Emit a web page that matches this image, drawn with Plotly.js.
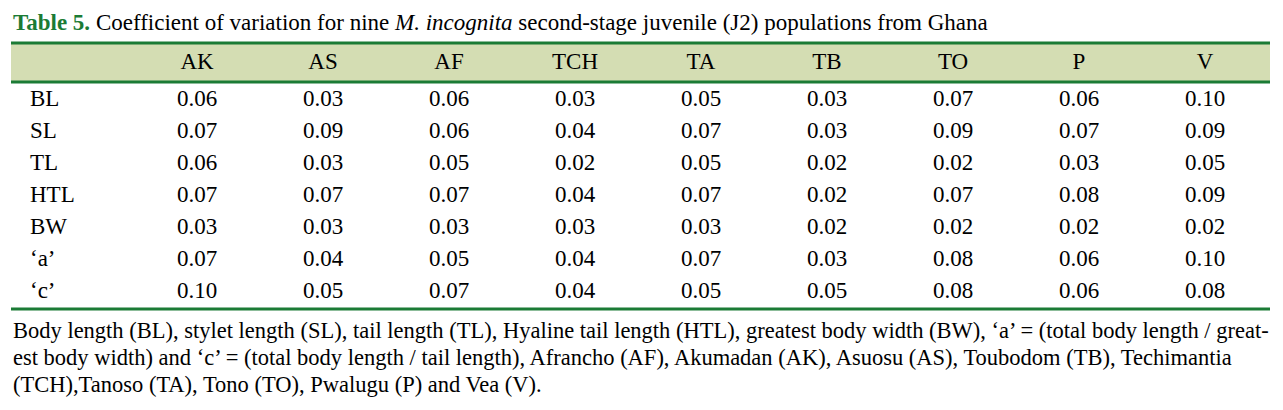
<!DOCTYPE html>
<html>
<head>
<meta charset="utf-8">
<script src="https://cdn.plot.ly/plotly-3.0.1.min.js"></script>
<style>
  body { margin: 0; background: #fff; }
  #tabla { width: 1283px; height: 410px; }
</style>
</head>
<body>
<div id="tabla"></div>
<script>
var poblaciones = ['AK', 'AS', 'AF', 'TCH', 'TA', 'TB', 'TO', 'P', 'V'];
var medidas = ['BL', 'SL', 'TL', 'HTL', 'BW', '\u2018a\u2019', '\u2018c\u2019'];

var BL  = [0.06, 0.03, 0.06, 0.03, 0.05, 0.03, 0.07, 0.06, 0.10];
var SL  = [0.07, 0.09, 0.06, 0.04, 0.07, 0.03, 0.09, 0.07, 0.09];
var TL  = [0.06, 0.03, 0.05, 0.02, 0.05, 0.02, 0.02, 0.03, 0.05];
var HTL = [0.07, 0.07, 0.07, 0.04, 0.07, 0.02, 0.07, 0.08, 0.09];
var BW  = [0.03, 0.03, 0.03, 0.03, 0.03, 0.02, 0.02, 0.02, 0.02];
var a   = [0.07, 0.04, 0.05, 0.04, 0.07, 0.03, 0.08, 0.06, 0.10];
var c   = [0.10, 0.05, 0.07, 0.04, 0.05, 0.05, 0.08, 0.06, 0.08];
var filas = [BL, SL, TL, HTL, BW, a, c];

var fuente = 'Liberation Serif';
var verde = '#1b7b35';
var tinta = '#000';

// x: column index 1..9 (126 px apart), y: row index 0..6 (32 px apart)
var x0 = 1 - 197 / 126, x1 = x0 + 1283 / 126;
var yTop = -100 / 32, yBot = 310 / 32;
var yHeader = -37 / 32;
var xLabel = x0 + 30 / 126;

var cols = poblaciones.map(function (p, i) { return i + 1; });
var data = [];

data.push({
  x: cols,
  y: poblaciones.map(function () { return yHeader; }),
  text: poblaciones,
  mode: 'text',
  textposition: 'middle center',
  textfont: { family: fuente, size: 23, color: tinta },
  hoverinfo: 'skip',
  type: 'scatter'
});

data.push({
  x: medidas.map(function () { return xLabel; }),
  y: medidas.map(function (m, j) { return j; }),
  text: medidas,
  mode: 'text',
  textposition: 'middle right',
  textfont: { family: fuente, size: 23, color: tinta },
  hoverinfo: 'skip',
  type: 'scatter'
});

filas.forEach(function (fila, j) {
  data.push({
    x: cols,
    y: fila.map(function () { return j; }),
    text: fila.map(function (v) { return v.toFixed(2); }),
    mode: 'text',
    textposition: 'middle center',
    textfont: { family: fuente, size: 23, color: tinta },
    hoverinfo: 'skip',
    type: 'scatter'
  });
});

var xl = x0 + 11 / 126, xr = x0 + 1270 / 126;
var hTop = (43 - 100) / 32, hBot = (82 - 100) / 32, fin = (309 - 100) / 32;

function nota(texto, ypx) {
  return {
    xref: 'paper', yref: 'paper', x: 11 / 1283, y: 1 - ypx / 410,
    xanchor: 'left', yanchor: 'middle', showarrow: false,
    font: { family: fuente, size: 22.5, color: tinta },
    text: texto
  };
}

var layout = {
  width: 1283,
  height: 410,
  margin: { l: 0, r: 0, t: 0, b: 0 },
  paper_bgcolor: '#fff',
  plot_bgcolor: '#fff',
  showlegend: false,
  xaxis: { range: [x0, x1], visible: false, fixedrange: true },
  yaxis: { range: [yBot, yTop], visible: false, fixedrange: true },
  shapes: [
    { type: 'rect', xref: 'x', yref: 'y', x0: xl, x1: xr, y0: hTop, y1: hBot,
      fillcolor: '#d4ddb3', line: { width: 0 }, layer: 'below' },
    { type: 'line', xref: 'x', yref: 'y', x0: xl, x1: xr, y0: hTop, y1: hTop, line: { color: verde, width: 3 } },
    { type: 'line', xref: 'x', yref: 'y', x0: xl, x1: xr, y0: hBot, y1: hBot, line: { color: verde, width: 3 } },
    { type: 'line', xref: 'x', yref: 'y', x0: xl, x1: xr, y0: fin, y1: fin, line: { color: verde, width: 3 } }
  ],
  annotations: [
    {
      xref: 'paper', yref: 'paper', x: 11 / 1283, y: 1 - 22 / 410,
      xanchor: 'left', yanchor: 'middle', showarrow: false,
      font: { family: fuente, size: 23, color: tinta },
      text: '<b><span style="color:' + verde + '">Table 5.</span></b> Coefficient of variation for nine <i>M. incognita</i> second-stage juvenile (J2) populations from Ghana'
    },
    nota('Body length (BL), stylet length (SL), tail length (TL), Hyaline tail length (HTL), greatest body width (BW), \u2018a\u2019 = (total body length / great-', 330),
    nota('est body width) and \u2018c\u2019 = (total body length / tail length), Afrancho (AF), Akumadan (AK), Asuosu (AS), Toubodom (TB), Techimantia', 357),
    nota('(TCH),Tanoso (TA), Tono (TO), Pwalugu (P) and Vea (V).', 384)
  ]
};

Plotly.newPlot('tabla', data, layout, { staticPlot: true });
</script>
</body>
</html>
